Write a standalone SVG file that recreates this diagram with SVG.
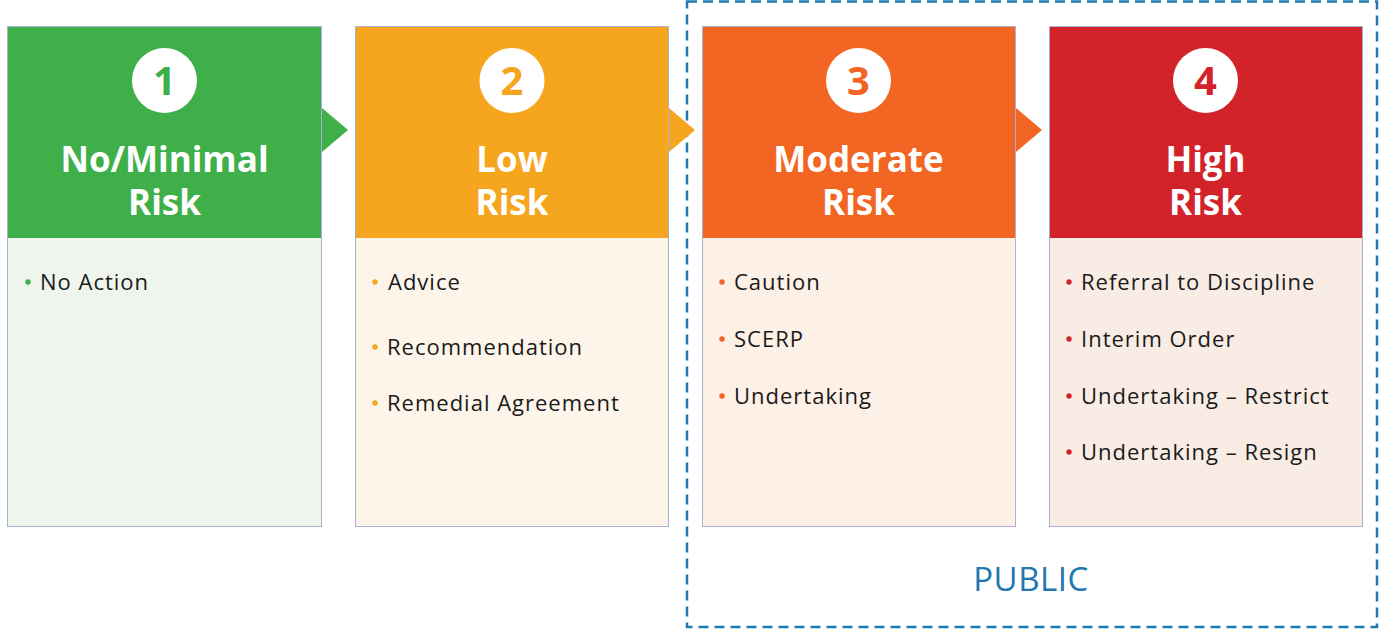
<svg xmlns="http://www.w3.org/2000/svg" width="1380" height="629" viewBox="0 0 1380 629">
<style>
.frame{fill:none;stroke:#aab2d4;stroke-width:1}
.num{font-family:"Open Sans","Liberation Sans",sans-serif;font-weight:700;font-size:40px;text-anchor:middle}
.title{font-family:"Open Sans","Liberation Sans",sans-serif;font-weight:700;font-size:35px;fill:#fff;text-anchor:middle}
.item{font-family:"Open Sans","Liberation Sans",sans-serif;font-size:22px;letter-spacing:1px;fill:#1a1a1a}
.pub{font-family:"Open Sans","Liberation Sans",sans-serif;font-size:33px;letter-spacing:0.5px;fill:#2277b0;text-anchor:middle}
</style>
<rect width="1380" height="629" fill="#fff"/>
<g id="public-box">
<rect x="687" y="1.5" width="690" height="625.5" fill="none" stroke="#2378b2" stroke-width="2.5" stroke-dasharray="10 6"/>
<text class="pub" x="1031" y="591">PUBLIC</text>
</g>
<g id="connectors">
<polygon points="322,108 348,130 322,152" fill="#3faf4a"/>
<polygon points="669,108 695,130 669,152" fill="#f6a51e"/>
<polygon points="1016,108 1042,130 1016,152" fill="#f26522"/>
</g>
<g id="card1">
<rect x="7" y="26" width="315" height="212" fill="#3faf4a"/>
<rect x="7" y="238" width="315" height="289" fill="#eff4ec"/>
<rect class="frame" x="7.5" y="26.5" width="314" height="500"/>
<circle cx="164.5" cy="80.5" r="32.5" fill="#fff"/>
<text class="num" x="164.5" y="95" fill="#3faf4a">1</text>
<text class="title" x="164.5" y="172">No/Minimal</text>
<text class="title" x="164.5" y="215">Risk</text>
<circle cx="28" cy="282" r="2.7" fill="#3faf4a"/>
<text class="item" x="40" y="290">No Action</text>
</g>
<g id="card2">
<rect x="355" y="26" width="314" height="212" fill="#f6a51e"/>
<rect x="355" y="238" width="314" height="289" fill="#fdf5ea"/>
<rect class="frame" x="355.5" y="26.5" width="313" height="500"/>
<circle cx="512" cy="80.5" r="32.5" fill="#fff"/>
<text class="num" x="512" y="95" fill="#f6a51e">2</text>
<text class="title" x="512" y="172">Low</text>
<text class="title" x="512" y="215">Risk</text>
<circle cx="375" cy="282" r="2.7" fill="#f6a51e"/>
<text class="item" x="388" y="290">Advice</text>
<circle cx="375" cy="347" r="2.7" fill="#f6a51e"/>
<text class="item" x="387" y="355">Recommendation</text>
<circle cx="375" cy="403" r="2.7" fill="#f6a51e"/>
<text class="item" x="387" y="411">Remedial Agreement</text>
</g>
<g id="card3">
<rect x="702" y="26" width="314" height="212" fill="#f26522"/>
<rect x="702" y="238" width="314" height="289" fill="#fdf0e6"/>
<rect class="frame" x="702.5" y="26.5" width="313" height="500"/>
<circle cx="858.5" cy="80.5" r="32.5" fill="#fff"/>
<text class="num" x="858.5" y="95" fill="#f26522">3</text>
<text class="title" x="858.5" y="172">Moderate</text>
<text class="title" x="858.5" y="215">Risk</text>
<circle cx="722" cy="282" r="2.7" fill="#f26522"/>
<text class="item" x="734" y="290">Caution</text>
<circle cx="722" cy="339" r="2.7" fill="#f26522"/>
<text class="item" x="734" y="347">SCERP</text>
<circle cx="722" cy="396" r="2.7" fill="#f26522"/>
<text class="item" x="734" y="404">Undertaking</text>
</g>
<g id="card4">
<rect x="1049" y="26" width="314" height="212" fill="#d2232a"/>
<rect x="1049" y="238" width="314" height="289" fill="#f8ece4"/>
<rect class="frame" x="1049.5" y="26.5" width="313" height="500"/>
<circle cx="1205.5" cy="80.5" r="32.5" fill="#fff"/>
<text class="num" x="1205.5" y="95" fill="#d2232a">4</text>
<text class="title" x="1205.5" y="172">High</text>
<text class="title" x="1205.5" y="215">Risk</text>
<circle cx="1069" cy="282" r="2.7" fill="#d2232a"/>
<text class="item" x="1081" y="290">Referral to Discipline</text>
<circle cx="1069" cy="339" r="2.7" fill="#d2232a"/>
<text class="item" x="1081" y="347">Interim Order</text>
<circle cx="1069" cy="396" r="2.7" fill="#d2232a"/>
<text class="item" x="1081" y="404">Undertaking – Restrict</text>
<circle cx="1069" cy="452" r="2.7" fill="#d2232a"/>
<text class="item" x="1081" y="460">Undertaking – Resign</text>
</g>
</svg>
